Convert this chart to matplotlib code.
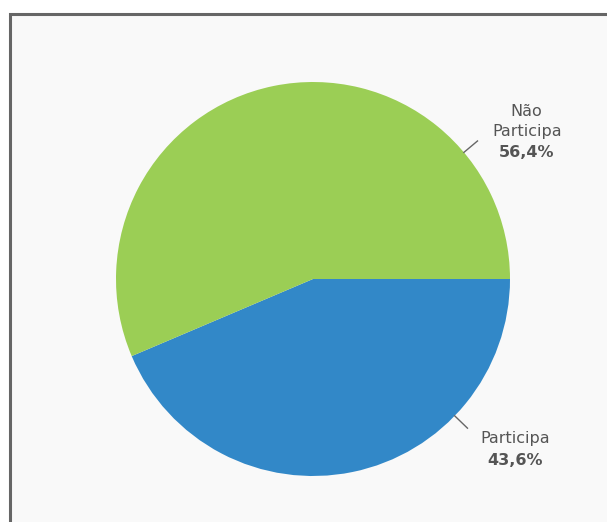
import numpy as np
import matplotlib.pyplot as plt
from matplotlib.patches import Rectangle

plt.rcParams['font.family'] = ['DejaVu Sans']

labels = ["Participa", "Não\nParticipa"]
values = [43.6, 56.4]
colors = ["#3288c8", "#9bce55"]
label_angles = [-44, 40]   # where the connector leaves the pie (degrees)

W, H = 607, 522
fig = plt.figure(figsize=(W / 100, H / 100), dpi=100)
fig.patch.set_facecolor("white")

# panel frame (only left and top borders visible)
frame = Rectangle((9.5 / W, -0.1), 1.2, (H - 13.5) / H + 0.1,
                  transform=fig.transFigure, facecolor="#f9f9f9",
                  edgecolor="#666666", linewidth=2.2, zorder=-10)
fig.add_artist(frame)

cx, cy, r = 313, H - 279, 197
ax = fig.add_axes([(cx - r) / W, (cy - r) / H, 2 * r / W, 2 * r / H])

ax.pie(values, colors=colors, startangle=0, counterclock=False, radius=1,
       wedgeprops=dict(linewidth=0))
ax.set_xlim(-1, 1)
ax.set_ylim(-1, 1)
ax.axis("off")

txt = dict(ha="center", va="center", fontsize=11.5, color="#555555", clip_on=False)
for lab, val, ang in zip(labels, values, label_angles):
    t = np.deg2rad(ang)
    x0, y0 = np.cos(t), np.sin(t)
    x1, y1 = 1.09 * np.cos(t), 1.09 * np.sin(t)
    ax.plot([x0, x1], [y0, y1], color="#666666", lw=1, clip_on=False)
    pct = f"{val:.1f}%".replace(".", ",")
    lines = lab.split("\n")
    if y0 > 0:
        tx = x1 + 0.25
        ys = [y1 + 0.152, y1 + 0.05][-len(lines):]
        ypct = y1 - 0.061
    else:
        tx = x1 + 0.24
        ys = [y1 - 0.051]
        ypct = y1 - 0.163
    for s, yy in zip(lines, ys):
        ax.text(tx, yy, s, **txt)
    ax.text(tx, ypct, pct, fontweight="bold", **txt)

fig.savefig("out.png", dpi=100, facecolor=fig.get_facecolor())
